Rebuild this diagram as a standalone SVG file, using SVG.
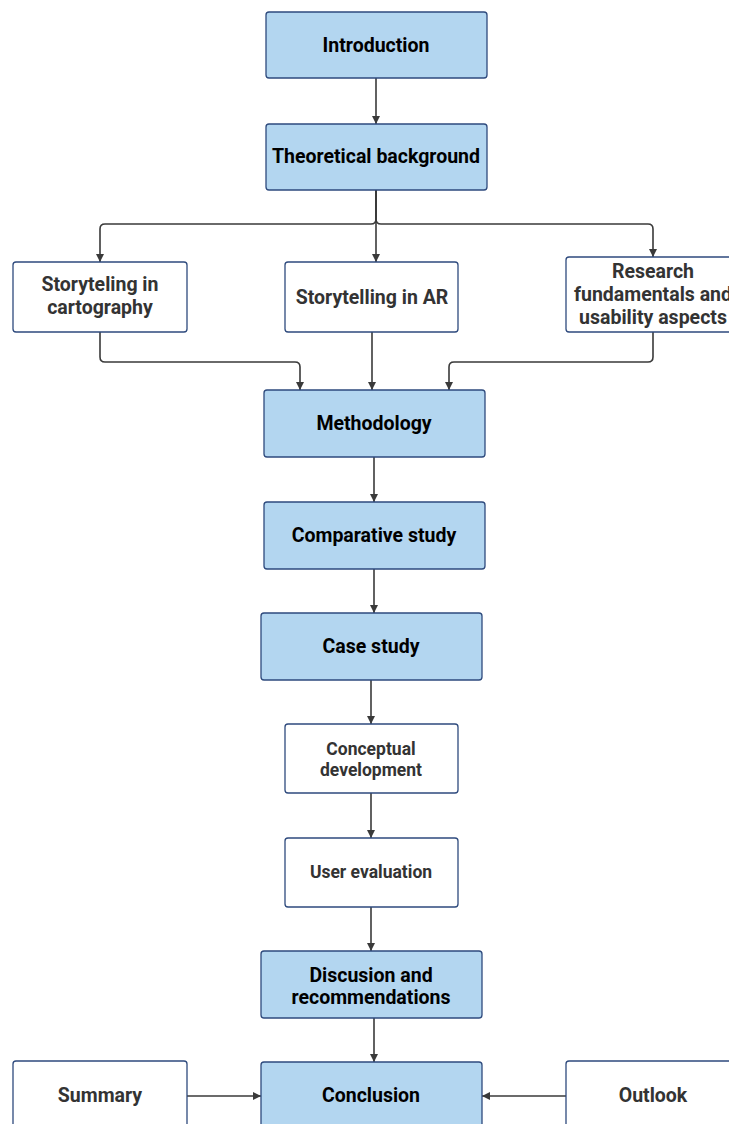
<svg xmlns="http://www.w3.org/2000/svg" width="729" height="1124" viewBox="0 0 729 1124">
<style>
.b{fill:#b3d6f0;stroke:#2e4a7d;stroke-width:1.3}
.w{fill:#ffffff;stroke:#2e4a7d;stroke-width:1.3}
.tb{font-family:Roboto,"Liberation Sans",sans-serif;font-weight:bold;font-size:19.5px;fill:#000;text-anchor:middle}
.tw{font-family:Roboto,"Liberation Sans",sans-serif;font-weight:bold;font-size:19.5px;fill:#333;text-anchor:middle}
.ts{font-family:Roboto,"Liberation Sans",sans-serif;font-weight:bold;font-size:17.5px;fill:#333;text-anchor:middle}
.c{fill:none;stroke:#3a3a3a;stroke-width:1.6}
</style>
<defs>
<marker id="ah" viewBox="0 0 10 10" refX="10" refY="5" markerWidth="8" markerHeight="8" markerUnits="userSpaceOnUse" orient="auto">
<path d="M0,0 L10,5 L0,10 z" fill="#3a3a3a"/>
</marker>
</defs>
<rect width="729" height="1124" fill="#fff"/>
<g id="connectors">
<path class="c" d="M376,78 V124" marker-end="url(#ah)"/>
<path class="c" d="M376,190 V262" marker-end="url(#ah)"/>
<path class="c" d="M376,190 V219 Q376,224 371,224 H105 Q100,224 100,229 V262" marker-end="url(#ah)"/>
<path class="c" d="M376,190 V219 Q376,224 381,224 H648 Q653,224 653,229 V257" marker-end="url(#ah)"/>
<path class="c" d="M100,332 V357 Q100,362 105,362 H295 Q300,362 300,367 V390" marker-end="url(#ah)"/>
<path class="c" d="M372,332 V390" marker-end="url(#ah)"/>
<path class="c" d="M653,332 V357 Q653,362 648,362 H454 Q449,362 449,367 V390" marker-end="url(#ah)"/>
<path class="c" d="M374,457 V502" marker-end="url(#ah)"/>
<path class="c" d="M374,569 V613" marker-end="url(#ah)"/>
<path class="c" d="M371,680 V724" marker-end="url(#ah)"/>
<path class="c" d="M371,793 V838" marker-end="url(#ah)"/>
<path class="c" d="M371,907 V951" marker-end="url(#ah)"/>
<path class="c" d="M374,1018 V1062" marker-end="url(#ah)"/>
<path class="c" d="M187,1096 H261" marker-end="url(#ah)"/>
<path class="c" d="M566,1096 H482" marker-end="url(#ah)"/>
</g>
<g id="introduction"><rect class="b" x="266" y="12" width="221" height="66" rx="3"/><text class="tb" x="376" y="52">Introduction</text></g>
<g id="theoretical"><rect class="b" x="266" y="124" width="221" height="66" rx="3"/><text class="tb" x="376" y="163">Theoretical background</text></g>
<g id="cartography"><rect class="w" x="13" y="262" width="174" height="70" rx="3"/><text class="tw" x="100" y="291">Storyteling in</text><text class="tw" x="100" y="314">cartography</text></g>
<g id="ar"><rect class="w" x="285" y="262" width="173" height="70" rx="3"/><text class="tw" x="372" y="304">Storytelling in AR</text></g>
<g id="research"><rect class="w" x="566" y="257" width="170" height="75" rx="3"/><text class="tw" x="653" y="278">Research</text><text class="tw" x="653" y="301">fundamentals and</text><text class="tw" x="653" y="324">usability aspects</text></g>
<g id="methodology"><rect class="b" x="264" y="390" width="221" height="67" rx="3"/><text class="tb" x="374" y="430">Methodology</text></g>
<g id="comparative"><rect class="b" x="264" y="502" width="221" height="67" rx="3"/><text class="tb" x="374" y="542">Comparative study</text></g>
<g id="case"><rect class="b" x="261" y="613" width="221" height="67" rx="3"/><text class="tb" x="371" y="653">Case study</text></g>
<g id="conceptual"><rect class="w" x="285" y="724" width="173" height="69" rx="3"/><text class="ts" x="371" y="755">Conceptual</text><text class="ts" x="371" y="776">development</text></g>
<g id="user"><rect class="w" x="285" y="838" width="173" height="69" rx="3"/><text class="ts" x="371" y="878">User evaluation</text></g>
<g id="discusion"><rect class="b" x="261" y="951" width="221" height="67" rx="3"/><text class="tb" x="371" y="982">Discusion and</text><text class="tb" x="371" y="1004">recommendations</text></g>
<g id="conclusion"><rect class="b" x="261" y="1062" width="221" height="70" rx="3"/><text class="tb" x="371" y="1102">Conclusion</text></g>
<g id="summary"><rect class="w" x="13" y="1061" width="174" height="70" rx="3"/><text class="tw" x="100" y="1102">Summary</text></g>
<g id="outlook"><rect class="w" x="566" y="1061" width="170" height="70" rx="3"/><text class="tw" x="653" y="1102">Outlook</text></g>
</svg>
